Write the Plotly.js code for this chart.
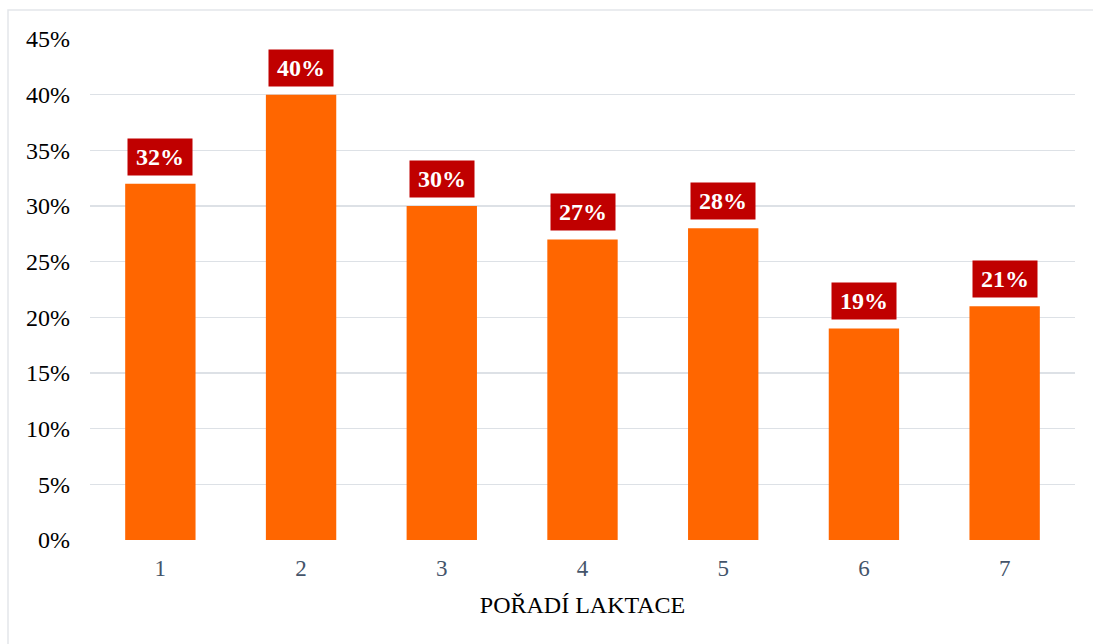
<!DOCTYPE html>
<html><head><meta charset="utf-8">
<script src="https://cdn.plot.ly/plotly-3.0.1.min.js"></script>
<style>html,body{margin:0;padding:0;background:#fff}#chart{width:1093px;height:644px}</style>
</head><body><div id="chart"></div>
<script>
const categories = ['1','2','3','4','5','6','7'];
const values = [0.32, 0.40, 0.30, 0.27, 0.28, 0.19, 0.21];
const labels = ['32%','40%','30%','27%','28%','19%','21%'];

const trace = {
  type: 'bar', x: categories, y: values,
  marker: {color: '#FF6600'},
  hoverinfo: 'skip'
};
const annotations = categories.map((c, i) => ({
  x: i, y: values[i], xref: 'x', yref: 'y',
  text: '<b>' + labels[i] + '</b>', showarrow: false,
  yanchor: 'bottom', yshift: 8,
  width: 56, height: 28,
  bgcolor: '#C00000', borderpad: 4,
  font: {family: 'Liberation Serif, Times New Roman, serif', size: 24, color: '#FFFFFF'}
}));
const layout = {
  width: 1093, height: 644,
  margin: {l: 90, r: 18, t: 39, b: 104},
  paper_bgcolor: '#FFFFFF', plot_bgcolor: '#FFFFFF',
  bargap: 0.5, showlegend: false,
  font: {family: 'Liberation Serif, Times New Roman, serif'},
  xaxis: {
    type: 'category', range: [-0.5, 6.5], showgrid: false, zeroline: false, showline: false,
    ticks: '', tickfont: {size: 23, color: '#44546A', family: 'Liberation Serif, serif'},
    ticklabelstandoff: 12,
    title: {text: 'POŘADÍ LAKTACE', font: {size: 24, color: '#000000', family: 'Liberation Serif, serif'}, standoff: 16}
  },
  yaxis: {
    range: [0, 0.45], dtick: 0.05, tickformat: '.0%',
    showgrid: true, gridcolor: '#DDE1E6', gridwidth: 1.5,
    zeroline: false, showline: false, ticks: '',
    tickfont: {size: 24, color: '#000000', family: 'Liberation Serif, serif'},
    ticklabelstandoff: 19
  },
  annotations: annotations,
  shapes: [{
    type: 'rect', xref: 'paper', yref: 'paper',
    x0: -82/985, x1: 1.2, y0: -0.5, y1: 1 + 29/501,
    line: {color: '#E3E6EA', width: 1.5}, fillcolor: 'rgba(0,0,0,0)', layer: 'below'
  }]
};
Plotly.newPlot('chart', [trace], layout, {displayModeBar: false, staticPlot: true});
</script></body></html>
